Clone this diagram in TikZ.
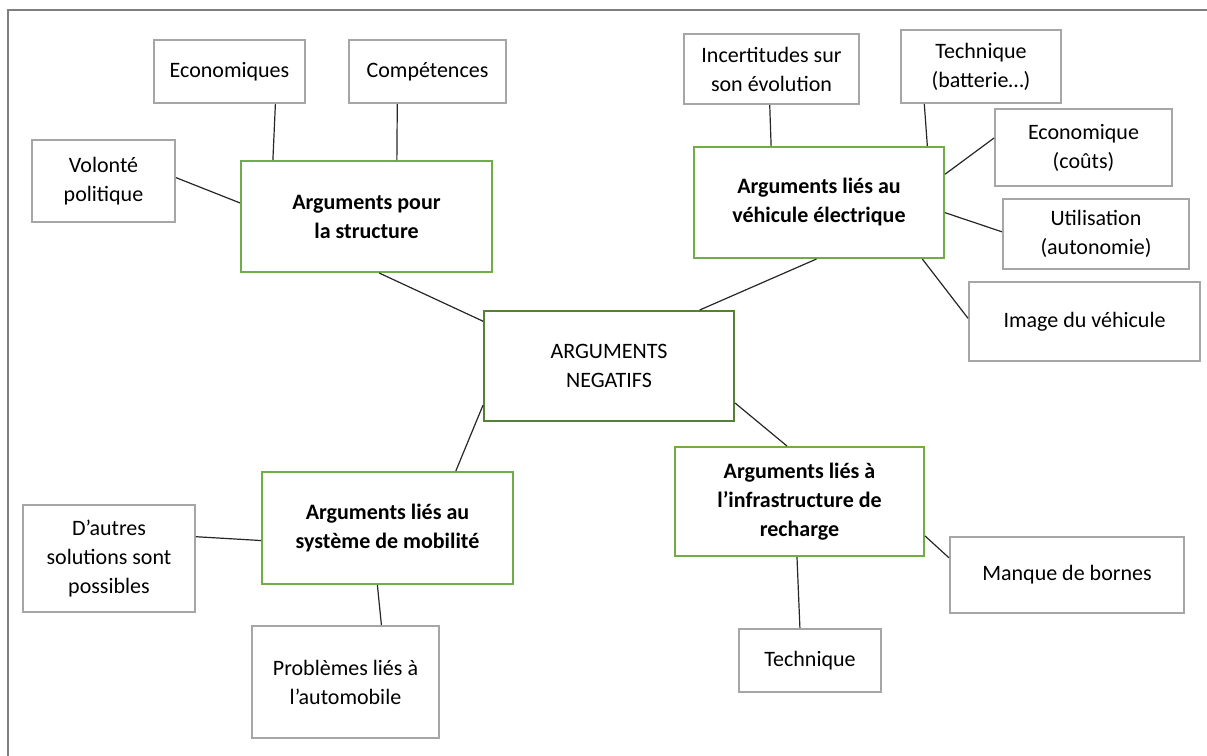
\documentclass[tikz,border=0pt]{standalone}
\usepackage{fontspec}
\setmainfont{Carlito}
\usetikzlibrary{calc}
\definecolor{boxgray}{RGB}{166,166,166}
\definecolor{hubgreen}{RGB}{112,173,71}
\definecolor{rootgreen}{RGB}{84,130,53}
\definecolor{framegray}{RGB}{127,127,127}

\begin{document}
\begin{tikzpicture}[x=0.5pt,y=-0.5pt,
    wh/.style 2 args={minimum width=#1*0.5pt,minimum height=#2*0.5pt},
    leaf/.style={draw=boxgray,line width=1pt,inner sep=0pt,align=center,
      font=\fontsize{11}{14.5}\selectfont},
    hub/.style={leaf,draw=hubgreen,font=\fontsize{11}{14.5}\selectfont\bfseries},
    root/.style={leaf,draw=rootgreen},
    link/.style={line width=0.6pt,black!85}]
    \useasboundingbox (0,0) rectangle (1207,756);
    \draw[framegray,line width=1pt] (8,756) -- (8,10) -- (1207,10);

    % centre
    \node[root,wh={250}{110}] (neg) at (609,366) {ARGUMENTS\\NEGATIFS};

    % structure
    \node[hub,wh={251}{111}] (struct) at (366.5,216.5) {Arguments pour\\la structure};
    \node[leaf,wh={151}{63}] (eco) at (229.5,71.5) {Economiques};
    \node[leaf,wh={157}{63}] (comp) at (427.5,71.5) {Compétences};
    \node[leaf,wh={143}{82}] (vol) at (103.5,181) {Volonté\\politique};

    % vehicule
    \node[hub,wh={250}{111}] (veh) at (819,202.5) {Arguments liés au\\véhicule électrique};
    \node[leaf,wh={175}{70}] (incert) at (771.5,69) {Incertitudes sur\\son évolution};
    \node[leaf,wh={160}{73}] (techbat) at (981,66.5) {Technique\\(batterie…)};
    \node[leaf,wh={177}{77}] (couts) at (1083.5,147.5) {Economique\\(coûts)};
    \node[leaf,wh={186}{70}] (util) at (1096,234) {Utilisation\\(autonomie)};
    \node[leaf,wh={231}{79}] (image) at (1084.5,321.5) {Image du véhicule};

    % mobilite
    \node[hub,wh={251}{112}] (mob) at (387.5,528) {Arguments liés au\\système de mobilité};
    \node[leaf,wh={172}{107}] (autres) at (109,558.5) {D’autres\\solutions sont\\possibles};
    \node[leaf,wh={187}{112}] (prob) at (345.5,682) {Problèmes liés à\\l’automobile};

    % infrastructure
    \node[hub,wh={249}{109}] (infra) at (799.5,501.5) {Arguments liés à\\l’infrastructure de\\recharge};
    \node[leaf,wh={234}{76}] (bornes) at (1067,575) {Manque de bornes};
    \node[leaf,wh={142}{63}] (tech) at (810,660.5) {Technique};

    \draw[link] ($(eco.south west)!.8!(eco.south east)$) -- ($(struct.north west)!.13!(struct.north east)$);
    \draw[link] ($(comp.south west)!.31!(comp.south east)$) -- ($(struct.north west)!.62!(struct.north east)$);
    \draw[link] ($(vol.north east)!.46!(vol.south east)$) -- ($(struct.north west)!.38!(struct.south west)$);
    \draw[link] ($(struct.south west)!.55!(struct.south east)$) -- ($(neg.north west)!.1!(neg.south west)$);

    \draw[link] ($(incert.south west)!.49!(incert.south east)$) -- ($(veh.north west)!.31!(veh.north east)$);
    \draw[link] ($(techbat.south west)!.15!(techbat.south east)$) -- ($(veh.north west)!.93!(veh.north east)$);
    \draw[link] ($(veh.north east)!.25!(veh.south east)$) -- ($(couts.north west)!.38!(couts.south west)$);
    \draw[link] ($(veh.north east)!.59!(veh.south east)$) -- ($(util.north west)!.47!(util.south west)$);
    \draw[link] ($(veh.south west)!.91!(veh.south east)$) -- ($(image.north west)!.46!(image.south west)$);
    \draw[link] ($(veh.south west)!.49!(veh.south east)$) -- ($(neg.north west)!.86!(neg.north east)$);

    \draw[link] ($(neg.north west)!.85!(neg.south west)$) -- ($(mob.north west)!.77!(mob.north east)$);
    \draw[link] ($(autres.north east)!.3!(autres.south east)$) -- ($(mob.north west)!.61!(mob.south west)$);
    \draw[link] ($(mob.south west)!.46!(mob.south east)$) -- ($(prob.north west)!.69!(prob.north east)$);

    \draw[link] ($(neg.north east)!.83!(neg.south east)$) -- ($(infra.north west)!.45!(infra.north east)$);
    \draw[link] ($(infra.north east)!.81!(infra.south east)$) -- ($(bornes.north west)!.28!(bornes.south west)$);
    \draw[link] ($(infra.south west)!.49!(infra.south east)$) -- ($(tech.north west)!.43!(tech.north east)$);
\end{tikzpicture}
\end{document}
